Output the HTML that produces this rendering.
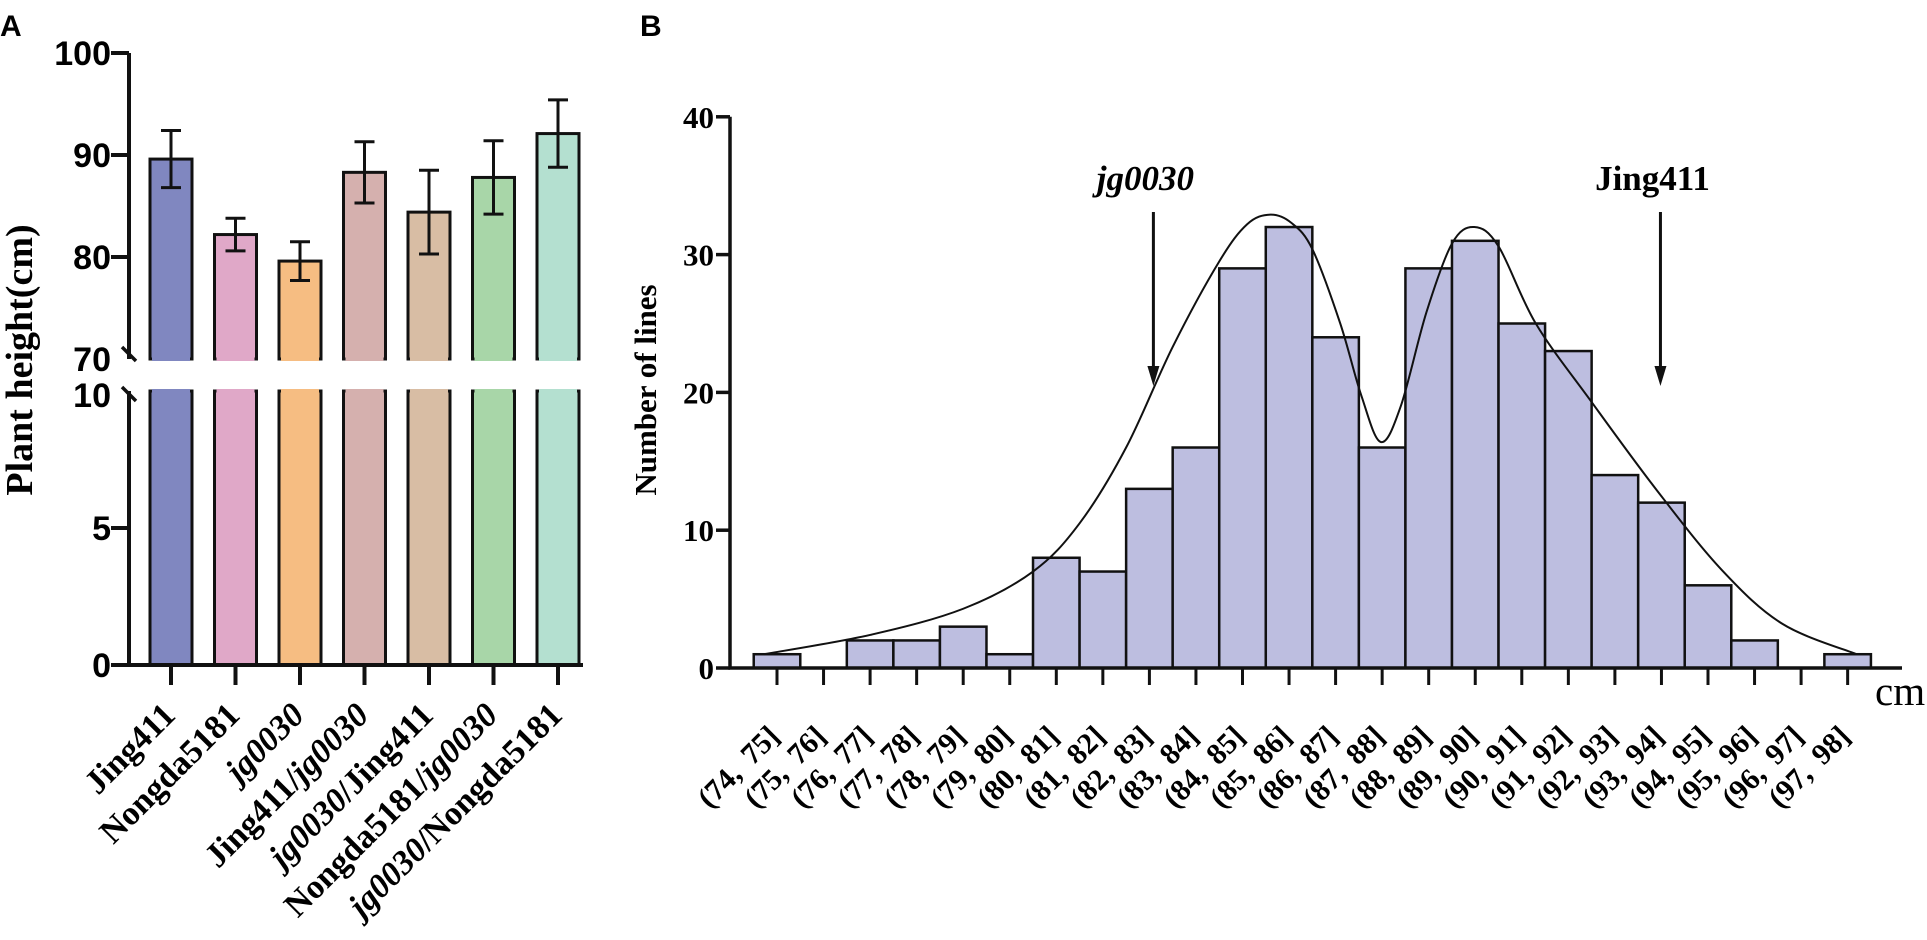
<!DOCTYPE html>
<html><head><meta charset="utf-8"><style>
html,body{margin:0;padding:0;background:#fff;}
svg{display:block;}
</style></head><body>
<svg id="fig" width="1927" height="940" viewBox="0 0 1927 940" xmlns="http://www.w3.org/2000/svg" font-family="Liberation Serif, serif">
<text x="0" y="36" font-size="30" font-weight="bold" style="font-family:'Liberation Sans',sans-serif">A</text>
<text x="640" y="36" font-size="30" font-weight="bold" style="font-family:'Liberation Sans',sans-serif">B</text>
<g id="panelA"></g>
<g id="panelB"></g>
</svg>
<script>
// ---------- Panel A data ----------
const aCategories = ["Jing411","Nongda5181","jg0030","Jing411/jg0030","jg0030/Jing411","Nongda5181/jg0030","jg0030/Nongda5181"];
const aMeans = [89.6, 82.2, 79.6, 88.3, 84.4, 87.8, 92.1];
const aErrors = [2.8, 1.6, 1.9, 3.0, 4.1, 3.6, 3.3];
const aUpperTicks = [70, 80, 90, 100];
const aLowerTicks = [0, 5, 10];
const aColors = ["#8087c0","#e0a8c8","#f6bd82","#d5b0ae","#d8bda4","#a8d6a8","#b4e0d0"];

// ---------- Panel B data ----------
const bBins = ["(74, 75]","(75, 76]","(76, 77]","(77, 78]","(78, 79]","(79, 80]","(80, 81]","(81, 82]","(82, 83]","(83, 84]","(84, 85]","(85, 86]","(86, 87]","(87, 88]","(88, 89]","(89, 90]","(90, 91]","(91, 92]","(92, 93]","(93, 94]","(94, 95]","(95, 96]","(96, 97]","(97, 98]"];
const bCounts = [1,0,2,2,3,1,8,7,13,16,29,32,24,16,29,31,25,23,14,12,6,2,0,1];
const bYTicks = [0,10,20,30,40];
// fitted curve: x in bin-index units (0 = centre of first bin), y = count
const curveX = [-0.28,2.0,4.0,5.5,6.5,7.5,8.5,9.5,10.1,10.6,11.05,11.5,12.1,12.55,12.97,13.4,13.95,14.5,14.98,15.5,16.3,17.5,18.9,20.3,21.6,23.19];
const curveY = [1.0,2.4,4.3,7.0,10.5,16.0,23.3,29.5,32.2,32.9,32.3,30.4,25.0,19.8,16.4,19.0,25.8,30.8,32.0,30.6,25.0,19.3,12.9,7.1,3.2,1.0];
const markerLabels = ["jg0030","Jing411"];
const markerBins = [8, 19];

const NS = "http://www.w3.org/2000/svg";
function mk(tag, attrs, parent){
  const e = document.createElementNS(NS, tag);
  for (const k in attrs) e.setAttribute(k, attrs[k]);
  parent.appendChild(e);
  return e;
}
function italicize(label, el){
  const parts = label.split(/(jg0030)/);
  parts.forEach(p=>{
    if(!p) return;
    const t = document.createElementNS(NS,"tspan");
    if(p==="jg0030") t.setAttribute("font-style","italic");
    t.textContent = p;
    el.appendChild(t);
  });
}
const SANS = "font-family:'Liberation Sans',sans-serif";

// ===== Panel A =====
(function(){
  const g = document.getElementById("panelA");
  const axX = 129, y0 = 665;
  const yLow = v => y0 - v*27.4;
  const yUp = v => 257 - (v-80)*10.2;
  const breakTop = yUp(70), breakBot = yLow(10);
  const x0 = 171, step = 64.5, bw = 42;
  const xc = i => x0 + i*step;
  aMeans.forEach((m,i)=>{
    const cx = xc(i);
    const top = yUp(m);
    const r1 = mk("rect",{x:cx-bw/2,y:top,width:bw,height:breakTop-top,fill:aColors[i],stroke:"#111","stroke-width":3},g);
    
    
    const r2 = mk("rect",{x:cx-bw/2,y:breakBot,width:bw,height:y0-breakBot,fill:aColors[i],stroke:"#111","stroke-width":3},g);
    
    
    mk("rect",{x:cx-bw/2+2,y:breakTop-2,width:bw-4,height:4,fill:aColors[i]},g);
    mk("rect",{x:cx-bw/2+2,y:breakBot-2,width:bw-4,height:4,fill:aColors[i]},g);
    const e = mk("path",{d:`M${cx},${yUp(m+aErrors[i])}V${yUp(m-aErrors[i])}M${cx-10},${yUp(m+aErrors[i])}H${cx+10}M${cx-10},${yUp(m-aErrors[i])}H${cx+10}`,stroke:"#111","stroke-width":3,fill:"none"},g);
    
    
    mk("line",{x1:cx,x2:cx,y1:y0,y2:y0+20,stroke:"#111","stroke-width":4},g);
    const lx = cx+6, ly = y0+52;
    const t = mk("text",{x:lx,y:ly,"text-anchor":"end","font-size":34,"font-weight":"bold",transform:`rotate(-45 ${lx} ${ly})`},g);
    italicize(aCategories[i], t);
    
    
  });
  const ax = mk("path",{d:`M${axX},${yUp(100)}V${breakTop}M${axX},${breakBot}V${y0}H${xc(6)+bw/2+4}`,stroke:"#111","stroke-width":4,fill:"none"},g);
  
  
  mk("path",{d:`M${axX-7},${breakTop-12}L${axX+7},${breakTop+2}M${axX-7},${breakBot-4}L${axX+7},${breakBot+10}`,stroke:"#111","stroke-width":3.5},g);
  aUpperTicks.forEach(v=>{
    const y = yUp(v);
    if(v>70) mk("line",{x1:axX-18,x2:axX,y1:y,y2:y,stroke:"#111","stroke-width":4},g);
    const t = mk("text",{x:axX-18,y:y+12,"text-anchor":"end","font-size":34,"font-weight":"bold",style:SANS},g);
    t.textContent = v;
    
    
  });
  aLowerTicks.forEach(v=>{
    const y = yLow(v);
    if(v<10) mk("line",{x1:axX-18,x2:axX,y1:y,y2:y,stroke:"#111","stroke-width":4},g);
    const t = mk("text",{x:axX-18,y:y+12+(v===10?4:0),"text-anchor":"end","font-size":34,"font-weight":"bold",style:SANS},g);
    t.textContent = v;
    
    
  });
  const yt = mk("text",{x:32,y:360,"text-anchor":"middle","font-size":38,"font-weight":"bold",transform:"rotate(-90 32 360)"},g);
  yt.textContent = "Plant height(cm)";
  
  
})();

// ===== Panel B =====
(function(){
  const g = document.getElementById("panelB");
  const axX = 730, y0 = 668;
  const y = v => y0 - v*13.78;
  const x0 = 777, step = 46.55;
  const x = u => x0 + u*step;
  bCounts.forEach((c,i)=>{
    if(c>0){
      const r = mk("rect",{x:x(i)-step/2,y:y(c),width:step,height:y0-y(c),fill:"#bdbee0",stroke:"#111","stroke-width":2.5},g);
      
      
    }
    mk("line",{x1:x(i),x2:x(i),y1:y0,y2:y0+17,stroke:"#111","stroke-width":3},g);
    const ax_ = x(i)+4, ay = y0+70;
    const t = mk("text",{x:ax_,y:ay,"text-anchor":"end","font-size":30,"font-weight":"bold","word-spacing":"6",transform:`rotate(-45 ${ax_} ${ay})`},g);
    t.textContent = bBins[i];
    
    
  });
  const pts = curveX.map((u,i)=>[x(u), y(curveY[i])]);
  let d = `M${pts[0][0]},${pts[0][1]}`;
  for(let i=0;i<pts.length-1;i++){
    const p0=pts[Math.max(0,i-1)],p1=pts[i],p2=pts[i+1],p3=pts[Math.min(pts.length-1,i+2)];
    const c1=[p1[0]+(p2[0]-p0[0])/6,p1[1]+(p2[1]-p0[1])/6];
    const c2=[p2[0]-(p3[0]-p1[0])/6,p2[1]-(p3[1]-p1[1])/6];
    d+=`C${c1[0]},${c1[1]} ${c2[0]},${c2[1]} ${p2[0]},${p2[1]}`;
  }
  const cv = mk("path",{d:d,fill:"none",stroke:"#111","stroke-width":2},g);
  
  
  const ax = mk("path",{d:`M${axX},${y(40)}V${y0}H1902`,stroke:"#111","stroke-width":3.5,fill:"none"},g);
  
  
  bYTicks.forEach(v=>{
    mk("line",{x1:axX-14,x2:axX,y1:y(v),y2:y(v),stroke:"#111","stroke-width":3.5},g);
    const t = mk("text",{x:axX-16,y:y(v)+11,"text-anchor":"end","font-size":31,"font-weight":"bold"},g);
    t.textContent = v;
    
    
  });
  const yt = mk("text",{x:656,y:390,"text-anchor":"middle","font-size":31,"font-weight":"bold",transform:"rotate(-90 656 390)"},g);
  yt.textContent = "Number of lines";
  
  
  const cm = mk("text",{x:1875,y:705,"font-size":41},g);
  cm.textContent = "cm";
  
  
  markerBins.forEach((b,i)=>{
    const ax2 = x(b)+ (i===0?4:-1);
    const a = mk("path",{d:`M${ax2},212V370`,stroke:"#111","stroke-width":3},g);
    
    
    mk("path",{d:`M${ax2-6},366L${ax2},386L${ax2+6},366Z`,fill:"#111"},g);
    const t = mk("text",{x:ax2-8,y:190,"text-anchor":"middle","font-size":35,"font-weight":"bold","font-style":i===0?"italic":"normal"},g);
    t.textContent = markerLabels[i];
    
    
  });
})();
</script>
</body></html>
